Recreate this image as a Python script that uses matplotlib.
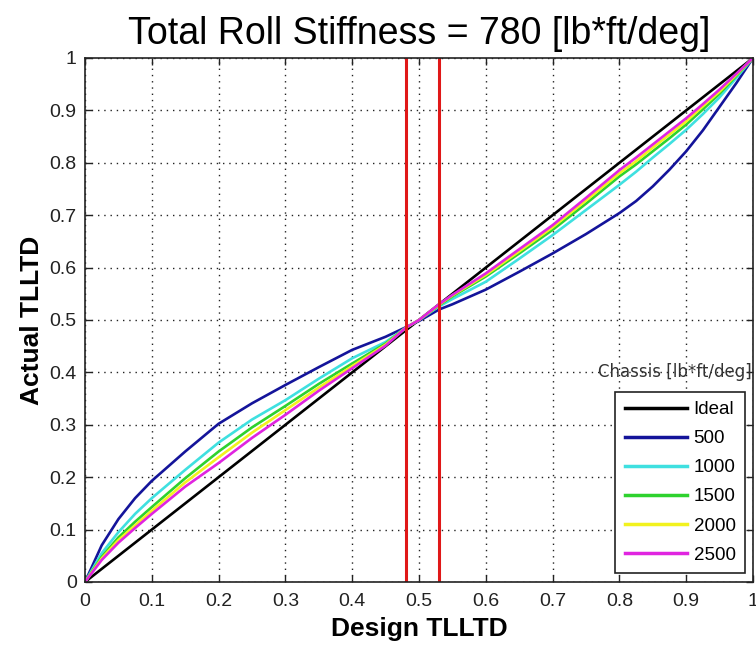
import matplotlib
matplotlib.use("Agg")
import matplotlib.pyplot as plt

plt.rcParams['font.family'] = ['Liberation Sans', 'DejaVu Sans']

x_design = [0.0, 0.025, 0.05, 0.075, 0.1, 0.15, 0.2, 0.25, 0.3, 0.35, 0.4, 0.45, 0.48, 0.5, 0.53,
            0.55, 0.6, 0.65, 0.7, 0.75, 0.8, 0.825, 0.85, 0.875, 0.9, 0.925, 0.95, 0.975, 1.0]
y_ideal = list(x_design)
y_500 = [0.0, 0.07, 0.12, 0.16, 0.193, 0.249, 0.302, 0.341, 0.376, 0.41, 0.443, 0.468, 0.486, 0.498, 0.52,
         0.53, 0.558, 0.592, 0.627, 0.664, 0.704, 0.727, 0.755, 0.787, 0.822, 0.862, 0.907, 0.952, 1.0]
y_1000 = [0.0, 0.055, 0.095, 0.13, 0.16, 0.214, 0.266, 0.31, 0.347, 0.388, 0.427, 0.458, 0.485, 0.5, 0.526,
          0.54, 0.573, 0.617, 0.662, 0.71, 0.758, 0.783, 0.81, 0.836, 0.863, 0.893, 0.925, 0.962, 1.0]
y_1500 = [0.0, 0.048, 0.085, 0.115, 0.143, 0.198, 0.249, 0.295, 0.336, 0.378, 0.417, 0.455, 0.485, 0.5, 0.528,
          0.545, 0.583, 0.627, 0.672, 0.722, 0.774, 0.797, 0.822, 0.847, 0.873, 0.902, 0.932, 0.966, 1.0]
y_2000 = [0.0, 0.045, 0.08, 0.108, 0.136, 0.19, 0.238, 0.285, 0.328, 0.371, 0.412, 0.453, 0.485, 0.5, 0.529,
          0.547, 0.586, 0.631, 0.677, 0.728, 0.78, 0.803, 0.829, 0.854, 0.879, 0.908, 0.936, 0.968, 1.0]
y_2500 = [0.0, 0.042, 0.075, 0.103, 0.13, 0.182, 0.227, 0.275, 0.319, 0.365, 0.408, 0.451, 0.485, 0.5, 0.53,
          0.548, 0.589, 0.635, 0.681, 0.733, 0.786, 0.81, 0.835, 0.86, 0.885, 0.912, 0.94, 0.97, 1.0]
red_lines = [0.48, 0.53]

labels = ['Ideal', '500', '1000', '1500', '2000', '2500']
series = [y_ideal, y_500, y_1000, y_1500, y_2000, y_2500]
colors = ['#000000', '#14149a', '#3fe0e0', '#2ed22e', '#f2f21e', '#e024e0']

ticks = [0, 0.1, 0.2, 0.3, 0.4, 0.5, 0.6, 0.7, 0.8, 0.9, 1]
tick_labels = ['0', '0.1', '0.2', '0.3', '0.4', '0.5', '0.6', '0.7', '0.8', '0.9', '1']

fig = plt.figure(figsize=(7.56, 6.47), dpi=100)
ax = fig.add_axes([85/756, 65/647, (753-85)/756, (582-58)/647])

for y, c, lab in zip(series, colors, labels):
    ax.plot(x_design, y, color=c, lw=1.9, label=lab)
for xr in red_lines:
    ax.axvline(xr, color='#e01818', lw=2.2)

ax.set_xlim(0, 1)
ax.set_ylim(0, 1)
ax.set_xticks(ticks)
ax.set_yticks(ticks)
ax.set_xticklabels(tick_labels)
ax.set_yticklabels(tick_labels)
ax.tick_params(direction='in', top=True, right=True, labelsize=14, length=5, width=1,
               colors='#222222', pad=6)
ax.tick_params(axis='x', pad=8)
ax.grid(True, color='#222222', linestyle=(0, (1, 3.5)), lw=1.0)
for s in ax.spines.values():
    s.set_linewidth(1.2)
    s.set_color('#222222')

ax.set_title('Total Roll Stiffness = 780 [lb*ft/deg]', fontsize=27, pad=10)
ax.set_xlabel('Design TLLTD', fontsize=19, fontweight='bold', labelpad=5)
ax.set_ylabel('Actual TLLTD', fontsize=19, fontweight='bold', labelpad=4)

leg = ax.legend(loc='lower right', bbox_to_anchor=(0.988, 0.017), fontsize=13.5,
                frameon=True, fancybox=False, edgecolor='#222222', framealpha=1,
                handlelength=3.3, handletextpad=0.37, labelspacing=0.64,
                borderpad=0.5, borderaxespad=0)
leg.get_frame().set_linewidth(1.2)
for line in leg.get_lines():
    line.set_linewidth(2.5)

ax.text(0.768, 0.40, 'Chassis [lb*ft/deg]', fontsize=12, color='#333333',
        family=['DejaVu Sans'], ha='left', va='center', transform=ax.transData,
        clip_on=False)

fig.savefig('out.png', dpi=100)
